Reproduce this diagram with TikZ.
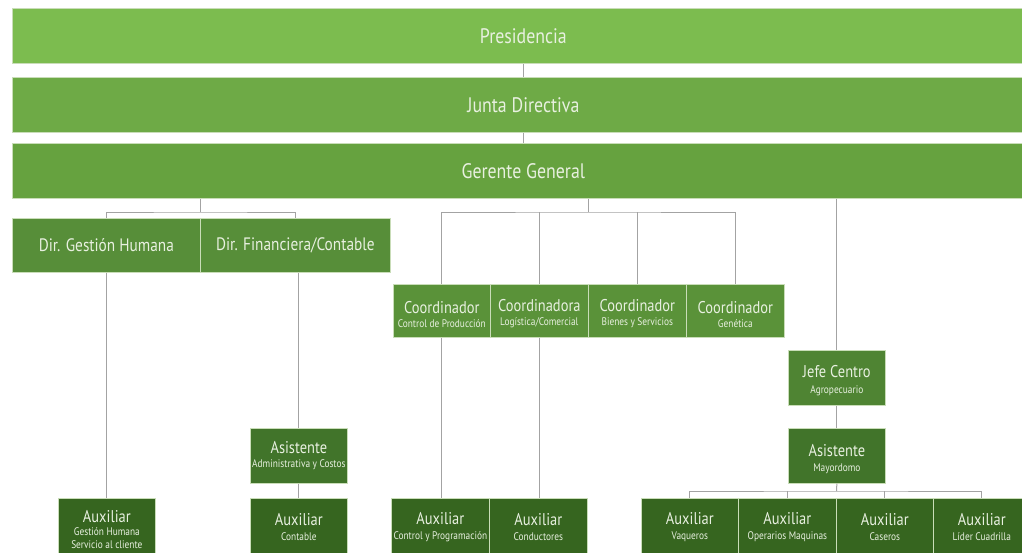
\documentclass[tikz,border=0pt]{standalone}
\usepackage{fontspec}
\setmainfont{PT Sans}[FakeStretch=0.85]
\definecolor{cPres}{HTML}{7CBC4F}
\definecolor{cJunta}{HTML}{6EAA46}
\definecolor{cGer}{HTML}{66A23F}
\definecolor{cDir}{HTML}{578E39}
\definecolor{cCoord}{HTML}{5A9239}
\definecolor{cJefe}{HTML}{4F8433}
\definecolor{cAsis}{HTML}{41742A}
\definecolor{cAux}{HTML}{36651F}
\definecolor{txt}{HTML}{E8F0E0}
\definecolor{edge}{HTML}{C9DDB8}
\definecolor{connc}{HTML}{A3A3A3}
\newcommand{\bigf}{\fontsize{21}{23}\selectfont}
\newcommand{\midf}{\fontsize{18}{20}\selectfont}
\newcommand{\mainf}{\fontsize{17}{18}\selectfont}
\newcommand{\subf}{\fontsize{11}{12}\selectfont}
\newcommand{\lift}{\rule{0pt}{18.5pt}}
\tikzset{
  box/.style={draw=edge, line width=0.7pt, text=txt, align=center, inner sep=0pt, anchor=north west},
  conn/.style={draw=connc, line width=1pt}
}
\begin{document}
\begin{tikzpicture}[x=1pt,y=-1pt]
\useasboundingbox (0,0) rectangle (1022,552);
\clip (0,0) rectangle (1022,552);
\fill[white] (0,0) rectangle (1022,552);
% top bars
\node[box, fill=cPres, minimum width=1022pt, minimum height=55pt] (pres) at (12,8) {\bigf Presidencia};
\node[box, fill=cJunta, minimum width=1022pt, minimum height=55pt] (junta) at (12,77) {\bigf Junta Directiva};
\node[box, fill=cGer, minimum width=1022pt, minimum height=55pt] (gg) at (12,143) {\bigf Gerente General};
% directors
\node[box, fill=cDir, minimum width=188pt, minimum height=54pt] (dgh) at (12,218) {\midf Dir. Gestión Humana};
\node[box, fill=cDir, minimum width=190pt, minimum height=54pt] (dfc) at (200,218) {\midf Dir. Financiera/Contable};
% coordinators
\node[box, fill=cCoord, minimum width=97pt, minimum height=53pt] (c1) at (393,284) {\mainf\lift Coordinador\\[2pt]\subf Control de Producción};
\node[box, fill=cCoord, minimum width=98pt, minimum height=53pt] (c2) at (490,284) {\mainf\lift Coordinadora\\[2pt]\subf Logística/Comercial};
\node[box, fill=cCoord, minimum width=98pt, minimum height=53pt] (c3) at (588,284) {\mainf\lift Coordinador\\[2pt]\subf Bienes y Servicios};
\node[box, fill=cCoord, minimum width=98pt, minimum height=53pt] (c4) at (686,284) {\mainf\lift Coordinador\\[2pt]\subf Genética};
% right branch
\node[box, fill=cJefe, minimum width=97pt, minimum height=55pt] (jefe) at (788,350) {\mainf\lift Jefe Centro\\[4pt]\subf Agropecuario};
\node[box, fill=cAsis, minimum width=97pt, minimum height=55pt] (asm) at (788,428) {\mainf\lift Asistente\\[3pt]\subf Mayordomo};
% left assistant
\node[box, fill=cAsis, minimum width=97pt, minimum height=55pt] (asa) at (250,428) {\mainf Asistente\\[2pt]\subf Administrativa y Costos};
% bottom row
\node[box, fill=cAux, minimum width=97pt, minimum height=62pt] (a1) at (58,498) {\mainf Auxiliar\\[1pt]\subf Gestión Humana\\[1pt]\subf Servicio al cliente};
\node[box, fill=cAux, minimum width=97pt, minimum height=58pt] (a2) at (250,498) {\mainf Auxiliar\\[3pt]\subf Contable};
\node[box, fill=cAux, minimum width=98pt, minimum height=58pt] (a3) at (391,498) {\mainf Auxiliar\\[3pt]\subf Control y Programación};
\node[box, fill=cAux, minimum width=98pt, minimum height=58pt] (a4) at (489,498) {\mainf Auxiliar\\[3pt]\subf Conductores};
\node[box, fill=cAux, minimum width=97pt, minimum height=58pt] (a5) at (641,498) {\mainf Auxiliar\\[3pt]\subf Vaqueros};
\node[box, fill=cAux, minimum width=98pt, minimum height=58pt] (a6) at (738,498) {\mainf Auxiliar\\[3pt]\subf Operarios Maquinas};
\node[box, fill=cAux, minimum width=97pt, minimum height=58pt] (a7) at (836,498) {\mainf Auxiliar\\[3pt]\subf Caseros};
\node[box, fill=cAux, minimum width=97pt, minimum height=58pt] (a8) at (933,498) {\mainf Auxiliar\\[3pt]\subf Líder Cuadrilla};
% junctions
\coordinate (j1) at (200,212);
\coordinate (j2) at (588,212);
\coordinate (j3) at (836.5,491);
% connectors
\draw[conn] (pres.south) -- (junta.north);
\draw[conn] (junta.south) -- (gg.north);
\draw[conn] (gg.south -| j1) -- (j1);
\draw[conn] (dgh.north) |- (j1) -| (dfc.north);
\draw[conn] (gg.south -| j2) -- (j2);
\draw[conn] (c1.north) |- (j2) -| (c4.north);
\draw[conn] (c2.north) -- (c2.north |- j2);
\draw[conn] (c3.north) -- (c3.north |- j2);
\draw[conn] (gg.south -| jefe.north) -- (jefe.north);
\draw[conn] (jefe.south) -- (asm.north);
\draw[conn] (asm.south) -- (j3);
\draw[conn] (a5.north) |- (j3) -| (a8.north);
\draw[conn] (a6.north) -- (a6.north |- j3);
\draw[conn] (a7.north) -- (a7.north |- j3);
\draw[conn] (dgh.south) -- (dgh.south |- a1.north);
\draw[conn] (asa.north |- dfc.south) -- (asa.north);
\draw[conn] (asa.south) -- (a2.north);
\draw[conn] (c1.south) -- (c1.south |- a3.north);
\draw[conn] (c2.south) -- (c2.south |- a4.north);
\end{tikzpicture}
\end{document}
